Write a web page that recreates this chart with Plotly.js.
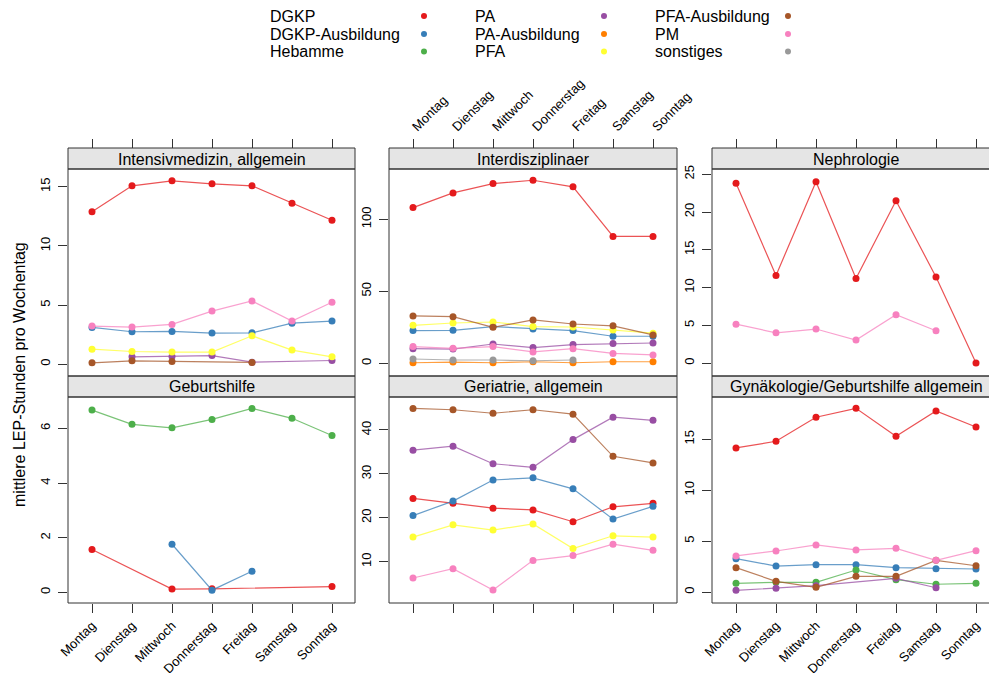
<!DOCTYPE html>
<html>
<head>
<meta charset="utf-8">
<script src="https://cdn.plot.ly/plotly-3.0.1.min.js"></script>
<style>
  html, body { margin: 0; padding: 0; background: #ffffff; }
  #chart { width: 989px; height: 673px; }
</style>
</head>
<body>
<div id="chart"></div>
<script>
// Weekdays and staff groups
const days = ["Montag", "Dienstag", "Mittwoch", "Donnerstag", "Freitag", "Samstag", "Sonntag"];
const groups = ["DGKP", "DGKP-Ausbildung", "Hebamme", "PA", "PA-Ausbildung", "PFA", "PFA-Ausbildung", "PM", "sonstiges"];
const groupColors = ["#E41A1C", "#377EB8", "#4DAF4A", "#984EA3", "#FF7F00", "#FFFF33", "#A65628", "#F781BF", "#999999"];

// Mean LEP hours per weekday, one small table per ward (null = no record that day)
const intensivmedizin = {
  "DGKP":            [12.88, 15.08, 15.5, 15.25, 15.08, 13.6, 12.17],
  "DGKP-Ausbildung": [3.11, 2.74, 2.77, 2.63, 2.65, 3.47, 3.64],
  "PA":              [null, 0.62, 0.65, 0.73, 0.17, null, 0.31],
  "PFA":             [1.27, 1.07, 1.02, 1.02, 2.4, 1.19, 0.62],
  "PFA-Ausbildung":  [0.11, 0.28, 0.23, null, 0.15, null, null],
  "PM":              [3.22, 3.14, 3.36, 4.49, 5.34, 3.64, 5.23]
};
const interdisziplinaer = {
  "DGKP":            [108.1, 118.3, 124.8, 127.1, 122.5, 88.1, 88.1],
  "DGKP-Ausbildung": [22.7, 22.9, 25.5, 23.9, 22.7, 18.8, 18.8],
  "PA":              [10.2, 9.9, 13.4, 10.9, 13.0, 13.7, 14.1],
  "PA-Ausbildung":   [0.4, 0.9, 0.4, 1.1, 0.4, 1.1, 1.1],
  "PFA":             [26.4, 28.0, 28.7, 25.5, 25.2, 23.2, 20.9],
  "PFA-Ausbildung":  [32.9, 32.4, 25.0, 30.1, 27.3, 26.0, 19.7],
  "PM":              [11.6, 10.4, 11.6, 7.9, 10.2, 6.9, 5.8],
  "sonstiges":       [3.0, 2.3, 2.3, 1.8, 2.3, null, null]
};
const nephrologie = {
  "DGKP":            [23.8, 11.6, 24.0, 11.2, 21.5, 11.4, 0.0],
  "PM":              [5.15, 4.0, 4.5, 3.04, 6.4, 4.28, null]
};
const geburtshilfe = {
  "DGKP":            [1.57, null, 0.12, 0.13, null, null, 0.21],
  "DGKP-Ausbildung": [null, null, 1.76, 0.08, 0.77, null, null],
  "Hebamme":         [6.67, 6.15, 6.02, 6.33, 6.73, 6.37, 5.74]
};
const geriatrie = {
  "DGKP":            [24.4, 23.3, 22.2, 21.8, 19.1, 22.5, 23.3],
  "DGKP-Ausbildung": [20.5, 23.8, 28.6, 29.1, 26.6, 19.7, 22.6],
  "PA":              [35.4, 36.3, 32.3, 31.5, 37.8, 42.9, 42.2],
  "PFA":             [15.6, 18.4, 17.2, 18.6, 13.0, 15.9, 15.6],
  "PFA-Ausbildung":  [44.9, 44.6, 43.8, 44.6, 43.6, 34.0, 32.5],
  "PM":              [6.3, 8.4, 3.55, 10.3, 11.4, 14.0, 12.6]
};
const gynaekologie = {
  "DGKP":            [14.15, 14.8, 17.16, 18.04, 15.3, 17.78, 16.2],
  "DGKP-Ausbildung": [3.27, 2.55, 2.68, 2.68, 2.39, 2.29, 2.26],
  "Hebamme":         [0.85, 0.95, 0.95, 2.16, 1.21, 0.76, 0.85],
  "PA":              [0.16, 0.36, 0.62, null, 1.34, 0.42, null],
  "PFA-Ausbildung":  [2.39, 1.05, 0.46, 1.54, 1.54, 3.11, 2.58],
  "PM":              [3.54, 4.03, 4.62, 4.13, 4.29, 3.11, 4.06]
};

const panelTitles = ["Intensivmedizin, allgemein", "Interdisziplinaer", "Nephrologie",
                     "Geburtshilfe", "Geriatrie, allgemein", "Gynäkologie/Geburtshilfe allgemein"];
const panelData = [intensivmedizin, interdisziplinaer, nephrologie, geburtshilfe, geriatrie, gynaekologie];
const yTicks = [[0, 5, 10, 15], [0, 50, 100], [0, 5, 10, 15, 20, 25], [0, 2, 4, 6], [10, 20, 30, 40], [0, 5, 10, 15]];

// ---- layout geometry (pixels) ----
const W = 989, H = 673;
const px = v => v / W;
const py = v => 1 - v / H;
const cols = [[68, 355], [389, 677], [712, 1000]];
const rows = [{strip: [148, 169], plot: [169, 376]}, {strip: [376, 397], plot: [397, 603]}];
const yRanges = [[-1.0, 16.5], [-8.8, 134.9], [-1.72, 25.7], [-0.39, 7.15], [0.6, 47.5], [-1.08, 19.15]];
const unitPx = 40; // pixels per weekday step

const font = "Liberation Sans, Arial, sans-serif";
const axisColor = "#333333";

function rgba(hex, a) {
  const n = parseInt(hex.slice(1), 16);
  return `rgba(${(n >> 16) & 255},${(n >> 8) & 255},${n & 255},${a})`;
}

const traces = [];
const layout = {
  width: W, height: H,
  margin: {l: 0, r: 0, t: 0, b: 0},
  paper_bgcolor: "#ffffff", plot_bgcolor: "#ffffff",
  showlegend: false,
  font: {family: font, color: "#000000"},
  shapes: [], annotations: []
};

for (let i = 0; i < 6; i++) {
  const r = Math.floor(i / 3), c = i % 3;
  const k = i + 1;
  const xa = "xaxis" + k, ya = "yaxis" + k;
  const [x0, x1raw] = cols[c];
  const x1 = Math.min(x1raw, W);
  const xr = [-0.6, -0.6 + (x1 - x0) / unitPx];
  const row = rows[r];

  const xaxis = {
    domain: [px(x0), px(x1)],
    type: "category",
    categoryorder: "array", categoryarray: days,
    range: xr,
    showgrid: false, zeroline: false, showline: false,
    ticks: "outside", ticklen: 9, tickcolor: axisColor, tickwidth: 1,
    tickangle: -45,
    tickfont: {family: font, size: 13, color: "#000000"},
    fixedrange: true
  };
  if (r === 0) {
    xaxis.anchor = "free";
    xaxis.position = py(row.strip[0]);
    xaxis.side = "top";
    xaxis.showticklabels = (c === 1);
  } else {
    xaxis.anchor = "y" + k;
    xaxis.side = "bottom";
    xaxis.showticklabels = (c !== 1);
  }
  layout[xa] = xaxis;

  layout[ya] = {
    domain: [py(row.plot[1]), py(row.plot[0])],
    anchor: "x" + k,
    range: yRanges[i],
    tickvals: yTicks[i],
    showgrid: false, zeroline: false, showline: false,
    ticks: "outside", ticklen: 9, tickcolor: axisColor, tickwidth: 1,
    tickangle: -90,
    ticklabelstandoff: 3,
    tickfont: {family: font, size: 13, color: "#000000"},
    fixedrange: true
  };

  // strip and panel frame
  layout.shapes.push({
    type: "rect", xref: "paper", yref: "paper",
    x0: px(x0), x1: px(x1raw), y0: py(row.strip[1]), y1: py(row.strip[0]),
    fillcolor: "#E5E5E5", line: {color: axisColor, width: 1}, layer: "below"
  });
  layout.shapes.push({
    type: "rect", xref: "paper", yref: "paper",
    x0: px(x0), x1: px(x1raw), y0: py(row.plot[1]), y1: py(row.plot[0]),
    fillcolor: "rgba(0,0,0,0)", line: {color: axisColor, width: 1}, layer: "above"
  });
  layout.annotations.push({
    text: panelTitles[i], xref: "paper", yref: "paper",
    x: px((x0 + x1raw) / 2), y: py((row.strip[0] + row.strip[1]) / 2 + 0.5),
    xanchor: "center", yanchor: "middle", showarrow: false,
    font: {family: font, size: 16, color: "#000000"}
  });

  // one line per staff group present on this ward
  const data = panelData[i];
  groups.forEach((g, gi) => {
    if (!data[g]) return;
    traces.push({
      type: "scatter", mode: "lines+markers",
      x: days, y: data[g], name: g,
      xaxis: "x" + k, yaxis: "y" + k,
      connectgaps: true,
      line: {color: rgba(groupColors[gi], 0.75), width: 1.2},
      marker: {color: groupColors[gi], size: 7},
      hoverinfo: "skip"
    });
  });
}

// shared y-axis title
layout.annotations.push({
  text: "mittlere LEP-Stunden pro Wochentag", xref: "paper", yref: "paper",
  x: px(19), y: py(375), textangle: -90, showarrow: false,
  xanchor: "center", yanchor: "middle",
  font: {family: font, size: 16, color: "#000000"}
});

// key above the panels: three columns, label followed by a coloured dot
const keyTextX = [268, 473, 653];
const keyDotX = [424, 604, 788];
const keyRowY = [16, 34, 51.5];
groups.forEach((g, gi) => {
  const c = Math.floor(gi / 3), rr = gi % 3;
  layout.annotations.push({
    text: g, xref: "paper", yref: "paper",
    x: px(keyTextX[c]), y: py(keyRowY[rr]),
    xanchor: "left", yanchor: "middle", showarrow: false,
    font: {family: font, size: 16, color: "#000000"}
  });
  const rad = 3;
  layout.shapes.push({
    type: "circle", xref: "paper", yref: "paper",
    x0: px(keyDotX[c] - rad), x1: px(keyDotX[c] + rad),
    y0: py(keyRowY[rr] + rad), y1: py(keyRowY[rr] - rad),
    fillcolor: groupColors[gi], line: {width: 0}
  });
});

Plotly.newPlot("chart", traces, layout, {staticPlot: true, displayModeBar: false});
</script>
</body>
</html>
